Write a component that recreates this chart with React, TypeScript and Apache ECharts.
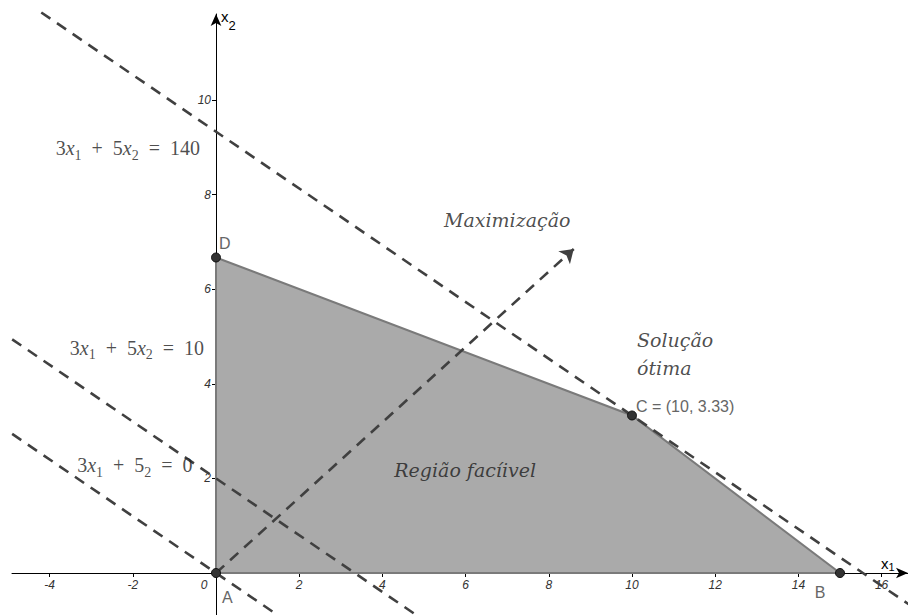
import React, { useEffect, useRef } from 'react';
import * as echarts from 'echarts';

// Axis ticks
const xTickValues = [-4, -2, 0, 2, 4, 6, 8, 10, 12, 14, 16];
const yTickValues = [2, 4, 6, 8, 10];

// Feasible region vertices A, B, C, D
const vertexX = [0, 15, 10, 0];
const vertexY = [0, 0, 3.33, 6.67];
const vertexLabels = ['A', 'B', 'C = (10, 3.33)', 'D'];

// Dashed iso-objective lines (end points)
const line140 = [[-4.2, 11.85], [17.1, -0.93]];
const line10 = [[-4.9, 4.94], [4.9, -0.94]];
const line0 = [[-4.9, 2.94], [1.6, -0.96]];
// Maximization direction arrow
const maxArrow = [[0, 0], [8.6, 6.85]];

// Annotation texts and their anchors (data coordinates)
const SP = '\u2002';
const noteTexts = [
  `3{i|x}{s|1}${SP}+${SP}5{i|x}{s|2}${SP}=${SP}140`,
  `3{i|x}{s|1}${SP}+${SP}5{i|x}{s|2}${SP}=${SP}10`,
  `3{i|x}{s|1}${SP}+${SP}5{s|2}${SP}=${SP}0`,
  '{w|Maximização}',
  '{w|Região facíivel}',
  '{w|Solução}\n{w|ótima}',
];
const noteX = [-2.12, -1.9, -1.95, 7.0, 5.99, 10.12];
const noteY = [8.98, 4.76, 2.28, 7.46, 2.18, 4.63];
const noteAlign = ['center', 'center', 'center', 'center', 'center', 'left'];

const SERIF = '"Liberation Serif", "DejaVu Serif", serif';
const WSERIF = '"DejaVu Serif", "Liberation Serif", serif';
const SANS = '"Liberation Sans", Arial, sans-serif';

const vertexLabelCfg = [
  { align: 'left', offset: [6, 25] },
  { align: 'center', offset: [-20, 20] },
  { align: 'left', offset: [4, -9] },
  { align: 'left', offset: [3, -14] },
];

const dashStyle = { color: '#404040', width: 2.6, type: [11, 8] as any };

// data ranges of the plot window
const xMin = -4.904;
const xMax = 16.635;
const yMin = -0.888;
const yMax = 11.818;

export default function App() {
  const ref = useRef<HTMLDivElement>(null);

  useEffect(() => {
    if (!ref.current) return;
    const chart = echarts.init(ref.current, null, { renderer: 'svg' });

    const gridLeft = 12;
    const gridTop = 14;
    const W = 908;
    const H = 615;
    // offsets that bring each axis line to the other axis' zero
    const xAxisOffset = -((0 - yMin) / (yMax - yMin)) * (H - gridTop);
    const yAxisOffset = -((0 - xMin) / (xMax - xMin)) * (W - gridLeft);

    const richMath = {
      i: { fontFamily: SERIF, fontStyle: 'italic', fontSize: 20, color: '#1e1e1e', lineHeight: 26 },
      s: { fontFamily: SERIF, fontSize: 14, color: '#1e1e1e', lineHeight: 14, verticalAlign: 'bottom' },
      w: { fontFamily: WSERIF, fontStyle: 'italic', fontSize: 19, color: '#1e1e1e', lineHeight: 28 },
    };

    const option: any = {
      animation: false,
      backgroundColor: '#ffffff',
      grid: { left: gridLeft, right: 0, top: gridTop, bottom: 0, containLabel: false, outerBoundsMode: 'none' },
      xAxis: {
        type: 'value',
        min: xMin,
        max: xMax,
        position: 'bottom',
        offset: xAxisOffset,
        splitLine: { show: false },
        axisLine: {
          onZero: false,
          lineStyle: { color: '#000', width: 1 },
          symbol: ['none', 'arrow'],
          symbolSize: [8, 12],
        },
        axisTick: { show: true, customValues: xTickValues, length: 4, lineStyle: { color: '#000' } },
        axisLabel: {
          customValues: xTickValues,
          margin: 6,
          fontFamily: SANS,
          fontStyle: 'italic',
          fontSize: 12,
          color: '#333',
          formatter: (v: number) => (v === 0 ? '{o|0}' : String(v)),
          rich: {
            o: { fontFamily: SANS, fontStyle: 'italic', fontSize: 12, color: '#333', padding: [0, 24, 0, 0] },
          },
        },
      },
      yAxis: {
        type: 'value',
        min: yMin,
        max: yMax,
        position: 'left',
        offset: yAxisOffset,
        splitLine: { show: false },
        axisLine: {
          onZero: false,
          lineStyle: { color: '#000', width: 1 },
          symbol: ['none', 'arrow'],
          symbolSize: [8, 12],
        },
        axisTick: { show: true, customValues: yTickValues, length: 4, lineStyle: { color: '#000' } },
        axisLabel: {
          customValues: yTickValues,
          margin: 5,
          fontFamily: SANS,
          fontStyle: 'italic',
          fontSize: 12,
          color: '#333',
        },
      },
      graphic: [
        {
          type: 'text',
          left: 881,
          top: 556,
          z: 10,
          style: {
            text: '{a|x}{b|1}',
            rich: {
              a: { fontFamily: SANS, fontSize: 15, color: '#333', lineHeight: 18 },
              b: { fontFamily: SANS, fontSize: 11, color: '#333', lineHeight: 12, verticalAlign: 'bottom' },
            },
          },
        },
        {
          type: 'text',
          left: 221,
          top: 9,
          z: 10,
          style: {
            text: '{a|x}{b|2}',
            rich: {
              a: { fontFamily: SANS, fontSize: 15, color: '#333', lineHeight: 18 },
              b: { fontFamily: SANS, fontSize: 13, color: '#333', lineHeight: 10, verticalAlign: 'bottom', padding: [0, 0, -6, 0] },
            },
          },
        },
      ],
      series: [
        {
          type: 'custom',
          coordinateSystem: 'cartesian2d',
          data: [[0, 0]],
          z: 2,
          silent: true,
          renderItem: (_params: any, api: any) => {
            const pts = vertexX.map((x, i) => api.coord([x, vertexY[i]]));
            return {
              type: 'polygon',
              shape: { points: pts },
              style: { fill: '#aaaaaa', stroke: '#7a7a7a', lineWidth: 2 },
            };
          },
        },
        { type: 'line', data: line140, symbol: 'none', clip: false, z: 3, lineStyle: dashStyle },
        { type: 'line', data: line10, symbol: 'none', clip: false, z: 3, lineStyle: dashStyle },
        { type: 'line', data: line0, symbol: 'none', clip: false, z: 3, lineStyle: dashStyle },
        {
          type: 'lines',
          coordinateSystem: 'cartesian2d',
          z: 3,
          symbol: ['none', 'arrow'],
          symbolSize: 13,
          lineStyle: { ...dashStyle, opacity: 1 },
          data: [{ coords: maxArrow }],
        },
        {
          type: 'scatter',
          z: 5,
          symbolSize: 9,
          itemStyle: { color: '#333', borderColor: '#111', borderWidth: 1, opacity: 1 },
          data: vertexX.map((x, i) => ({
            value: [x, vertexY[i]],
            label: {
              show: true,
              position: 'inside',
              formatter: vertexLabels[i],
              fontFamily: SANS,
              fontSize: 16,
              color: '#666',
              verticalAlign: 'middle',
              align: vertexLabelCfg[i].align,
              offset: vertexLabelCfg[i].offset,
            },
          })),
        },
        {
          type: 'scatter',
          z: 6,
          symbolSize: 0,
          silent: true,
          data: noteX.map((x, i) => ({
            value: [x, noteY[i]],
            label: {
              show: true,
              position: 'inside',
              formatter: noteTexts[i],
              fontFamily: SERIF,
              fontSize: 20,
              color: '#1e1e1e',
              lineHeight: 28,
              align: noteAlign[i],
              verticalAlign: 'middle',
              rich: richMath,
            },
          })),
        },
      ],
    };

    chart.setOption(option);
    return () => chart.dispose();
  }, []);

  return (
    <div
      ref={ref}
      style={{ position: 'fixed', left: 0, top: 0, width: 908, height: 615, background: '#fff' }}
    />
  );
}
